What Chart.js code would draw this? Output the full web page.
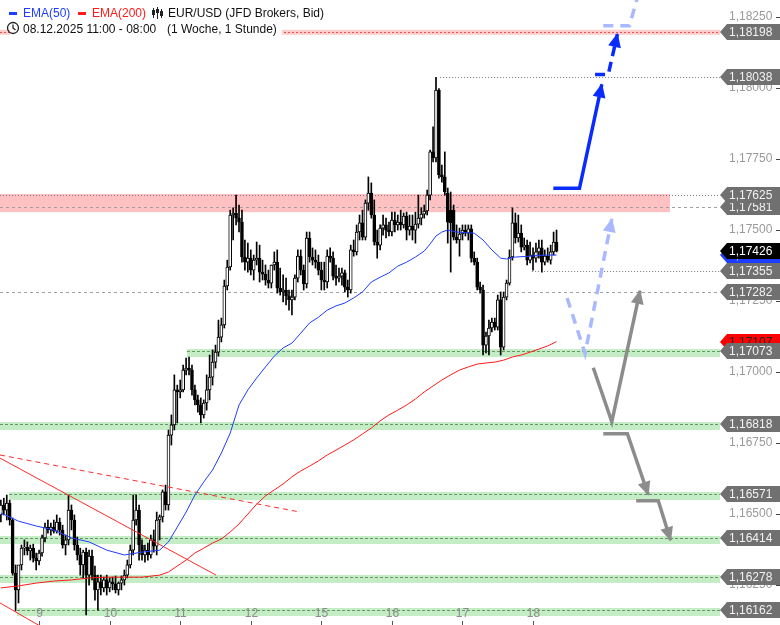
<!DOCTYPE html>
<html>
<head>
<meta charset="utf-8">
<script src="https://cdn.jsdelivr.net/npm/chart.js@4/dist/chart.umd.min.js"></script>
<style>
  html, body { margin: 0; padding: 0; background: #fff; }
</style>
</head>
<body>
<canvas id="canvas" width="780" height="625"></canvas>
<script>
const FONT = '"Liberation Sans", Arial, sans-serif';
Chart.defaults.font.family = FONT;

// x axis: one slot per hourly candle, labels on the first candle of each day
const dayLabels = ['9', '10', '11', '12', '15', '16', '17', '18'];
const dayStarts = [13, 37, 61, 85, 109, 133, 157, 181];

// candles [open, high, low, close]
const dec08 = [
  [1.16497,1.16549,1.16472,1.16532],[1.16532,1.16556,1.16497,1.16514],[1.16514,1.16567,1.16479,1.16539],
  [1.16539,1.16549,1.16461,1.16479],[1.16479,1.16486,1.16285,1.16292],[1.16292,1.16321,1.16159,1.16233],
  [1.16233,1.16303,1.16187,1.16321],[1.16321,1.16391,1.16303,1.16380],[1.16380,1.16409,1.16356,1.16384],
  [1.16384,1.16402,1.16356,1.16370],[1.16370,1.16391,1.16338,1.16380],[1.16380,1.16394,1.16331,1.16345],
  [1.16345,1.16363,1.16303,1.16335]
];
const dec09 = [
  [1.16335,1.16373,1.16321,1.16363],[1.16363,1.16426,1.16352,1.16416],[1.16416,1.16468,1.16402,1.16454],
  [1.16454,1.16479,1.16433,1.16444],[1.16444,1.16468,1.16426,1.16454],[1.16454,1.16479,1.16433,1.16440],
  [1.16440,1.16497,1.16433,1.16472],[1.16472,1.16486,1.16426,1.16444],[1.16444,1.16461,1.16380,1.16391],
  [1.16391,1.16426,1.16356,1.16409],[1.16409,1.16567,1.16391,1.16514],[1.16514,1.16532,1.16444,1.16479],
  [1.16479,1.16497,1.16373,1.16391],[1.16391,1.16419,1.16338,1.16356],[1.16356,1.16380,1.16285,1.16321],
  [1.16321,1.16373,1.16275,1.16366],[1.16366,1.16380,1.16145,1.16285],[1.16285,1.16373,1.16250,1.16352],
  [1.16352,1.16373,1.16268,1.16285],[1.16285,1.16317,1.16197,1.16233],[1.16233,1.16285,1.16162,1.16261],
  [1.16261,1.16285,1.16215,1.16240],[1.16240,1.16278,1.16226,1.16268],[1.16268,1.16285,1.16215,1.16240]
];
const dec10 = [
  [1.16240,1.16275,1.16226,1.16261],[1.16261,1.16278,1.16233,1.16254],[1.16254,1.16282,1.16222,1.16233],
  [1.16233,1.16261,1.16215,1.16257],[1.16257,1.16282,1.16233,1.16268],[1.16268,1.16303,1.16250,1.16285],
  [1.16285,1.16338,1.16275,1.16321],[1.16321,1.16391,1.16310,1.16373],[1.16373,1.16567,1.16356,1.16479],
  [1.16479,1.16567,1.16461,1.16514],[1.16514,1.16532,1.16338,1.16391],[1.16391,1.16409,1.16338,1.16356],
  [1.16356,1.16391,1.16331,1.16373],[1.16373,1.16398,1.16338,1.16356],[1.16356,1.16426,1.16345,1.16409],
  [1.16409,1.16444,1.16366,1.16387],[1.16387,1.16507,1.16356,1.16479],[1.16479,1.16497,1.16409,1.16490],
  [1.16490,1.16585,1.16472,1.16578],[1.16578,1.16602,1.16514,1.16532],[1.16532,1.16796,1.16514,1.16778],
  [1.16778,1.16849,1.16743,1.16814],[1.16814,1.16990,1.16796,1.16937],[1.16937,1.16954,1.16821,1.16930]
];
const dec11 = [
  [1.16930,1.16972,1.16909,1.16937],[1.16937,1.17025,1.16930,1.17007],[1.17007,1.17049,1.16990,1.17014],
  [1.17014,1.17053,1.16990,1.17007],[1.17007,1.17025,1.16919,1.16937],[1.16937,1.16954,1.16884,1.16902],
  [1.16902,1.16919,1.16859,1.16884],[1.16884,1.16909,1.16821,1.16849],[1.16849,1.16902,1.16838,1.16891],
  [1.16891,1.16990,1.16866,1.16937],[1.16937,1.17060,1.16902,1.16982],[1.16982,1.17078,1.16954,1.17035],
  [1.17035,1.17095,1.17014,1.17070],[1.17070,1.17183,1.17056,1.17123],[1.17123,1.17190,1.17106,1.17166],
  [1.17166,1.17324,1.17155,1.17303],[1.17303,1.17394,1.17289,1.17370],[1.17370,1.17570,1.17359,1.17553],
  [1.17553,1.17578,1.17465,1.17560],[1.17560,1.17623,1.17518,1.17542],[1.17542,1.17588,1.17493,1.17528],
  [1.17528,1.17570,1.17387,1.17405],[1.17405,1.17465,1.17359,1.17387],[1.17387,1.17454,1.17352,1.17401]
];
const dec12 = [
  [1.17401,1.17430,1.17342,1.17359],[1.17359,1.17412,1.17324,1.17394],[1.17394,1.17458,1.17377,1.17401],
  [1.17401,1.17447,1.17317,1.17352],[1.17352,1.17394,1.17324,1.17345],[1.17345,1.17377,1.17306,1.17324],
  [1.17324,1.17359,1.17296,1.17313],[1.17313,1.17377,1.17296,1.17377],[1.17377,1.17423,1.17359,1.17387],
  [1.17387,1.17430,1.17278,1.17296],[1.17296,1.17366,1.17271,1.17282],[1.17282,1.17342,1.17247,1.17289],
  [1.17289,1.17331,1.17236,1.17268],[1.17268,1.17289,1.17218,1.17254],[1.17254,1.17289,1.17201,1.17264],
  [1.17264,1.17342,1.17254,1.17331],[1.17331,1.17430,1.17317,1.17408],[1.17408,1.17430,1.17342,1.17359],
  [1.17359,1.17377,1.17289,1.17310],[1.17310,1.17493,1.17296,1.17472],[1.17472,1.17493,1.17387,1.17405],
  [1.17405,1.17437,1.17377,1.17394],[1.17394,1.17430,1.17366,1.17387],[1.17387,1.17412,1.17342,1.17359]
];
const dec15 = [
  [1.17359,1.17387,1.17289,1.17324],[1.17324,1.17387,1.17289,1.17317],[1.17317,1.17430,1.17296,1.17408],
  [1.17408,1.17437,1.17387,1.17401],[1.17401,1.17423,1.17324,1.17338],[1.17338,1.17377,1.17306,1.17331],
  [1.17331,1.17366,1.17317,1.17338],[1.17338,1.17366,1.17306,1.17349],[1.17349,1.17359,1.17282,1.17299],
  [1.17299,1.17324,1.17264,1.17289],[1.17289,1.17447,1.17278,1.17430],[1.17430,1.17465,1.17408,1.17423],
  [1.17423,1.17518,1.17412,1.17493],[1.17493,1.17553,1.17465,1.17525],[1.17525,1.17570,1.17465,1.17475],
  [1.17475,1.17606,1.17465,1.17595],[1.17595,1.17687,1.17570,1.17630],[1.17630,1.17666,1.17542,1.17553],
  [1.17553,1.17606,1.17447,1.17458],[1.17458,1.17500,1.17401,1.17447],[1.17447,1.17518,1.17430,1.17507],
  [1.17507,1.17553,1.17482,1.17518],[1.17518,1.17542,1.17472,1.17500],[1.17500,1.17528,1.17479,1.17493]
];
const dec16 = [
  [1.17493,1.17563,1.17479,1.17535],[1.17535,1.17563,1.17493,1.17518],[1.17518,1.17553,1.17500,1.17528],
  [1.17528,1.17570,1.17500,1.17518],[1.17518,1.17560,1.17507,1.17549],[1.17549,1.17563,1.17465,1.17500],
  [1.17500,1.17553,1.17482,1.17514],[1.17514,1.17553,1.17465,1.17500],[1.17500,1.17563,1.17454,1.17521],
  [1.17521,1.17623,1.17507,1.17542],[1.17542,1.17578,1.17518,1.17556],[1.17556,1.17588,1.17542,1.17567],
  [1.17567,1.17641,1.17553,1.17623],[1.17623,1.17782,1.17606,1.17775],[1.17775,1.17863,1.17740,1.17754],
  [1.17754,1.18038,1.17740,1.17993],[1.17993,1.17998,1.17683,1.17694],[1.17694,1.17729,1.17669,1.17687],
  [1.17687,1.17775,1.17623,1.17634],[1.17630,1.17648,1.17454,1.17528],[1.17570,1.17634,1.17352,1.17525],
  [1.17570,1.17588,1.17465,1.17475],[1.17475,1.17518,1.17454,1.17465],[1.17465,1.17507,1.17408,1.17486]
];
const dec17 = [
  [1.17486,1.17518,1.17465,1.17500],[1.17500,1.17518,1.17479,1.17489],[1.17489,1.17518,1.17465,1.17504],
  [1.17504,1.17518,1.17387,1.17401],[1.17401,1.17423,1.17377,1.17387],[1.17387,1.17401,1.17289,1.17299],
  [1.17299,1.17317,1.17278,1.17289],[1.17289,1.17306,1.17060,1.17095],[1.17095,1.17141,1.17067,1.17127],
  [1.17127,1.17183,1.17060,1.17155],[1.17155,1.17190,1.17141,1.17176],[1.17176,1.17190,1.17148,1.17158],
  [1.17158,1.17271,1.17148,1.17254],[1.17254,1.17282,1.17060,1.17088],[1.17088,1.17282,1.17078,1.17264],
  [1.17264,1.17324,1.17254,1.17313],[1.17313,1.17430,1.17306,1.17405],[1.17405,1.17578,1.17394,1.17525],
  [1.17525,1.17560,1.17454,1.17472],[1.17472,1.17553,1.17458,1.17489],[1.17489,1.17518,1.17423,1.17440],
  [1.17440,1.17472,1.17430,1.17447],[1.17447,1.17465,1.17377,1.17394],[1.17394,1.17458,1.17384,1.17412]
];
const dec18 = [
  [1.17412,1.17437,1.17359,1.17401],[1.17401,1.17454,1.17387,1.17423],[1.17423,1.17465,1.17401,1.17437],
  [1.17437,1.17465,1.17352,1.17387],[1.17387,1.17430,1.17377,1.17408],[1.17408,1.17437,1.17387,1.17394],
  [1.17394,1.17447,1.17380,1.17423],[1.17423,1.17493,1.17412,1.17458],[1.17458,1.17500,1.17423,1.17426]
];

// moving averages, [candle index, price]
const ema50 = [
  [0,1.16504],[6,1.16475],[12,1.16458],[18,1.16444],[24,1.16416],[30,1.16402],[36,1.16373],[42,1.16356],
  [48,1.16366],[54,1.16373],[57,1.16402],[60,1.16454],[63,1.16507],[66,1.16567],[69,1.16613],[72,1.16655],
  [75,1.16715],[78,1.16785],[81,1.16884],[84,1.16937],[87,1.16979],[90,1.17018],[93,1.17056],[96,1.17085],
  [99,1.17102],[102,1.17137],[105,1.17173],[108,1.17193],[111,1.17218],[114,1.17233],[117,1.17243],
  [120,1.17261],[123,1.17282],[126,1.17317],[129,1.17334],[132,1.17349],[135,1.17373],[138,1.17387],
  [141,1.17405],[144,1.17426],[146,1.17451],[148,1.17479],[150,1.17493],[152,1.17500],[155,1.17493],
  [158,1.17491],[161,1.17489],[164,1.17465],[167,1.17430],[170,1.17401],[172,1.17398],[175,1.17405],
  [180,1.17408],[185,1.17412],[189,1.17412]
];
const ema200 = [
  [0,1.16240],[6,1.16247],[12,1.16257],[18,1.16264],[24,1.16268],[30,1.16275],[36,1.16278],[42,1.16278],
  [48,1.16278],[54,1.16285],[57,1.16296],[60,1.16317],[63,1.16338],[66,1.16363],[69,1.16380],[72,1.16398],
  [75,1.16412],[78,1.16437],[81,1.16465],[84,1.16500],[87,1.16535],[90,1.16564],[93,1.16585],[96,1.16606],
  [99,1.16631],[102,1.16652],[105,1.16669],[108,1.16687],[111,1.16708],[114,1.16725],[117,1.16743],
  [120,1.16761],[123,1.16782],[126,1.16803],[129,1.16828],[132,1.16849],[135,1.16866],[138,1.16884],
  [141,1.16905],[144,1.16930],[147,1.16951],[150,1.16972],[153,1.16990],[156,1.17007],[159,1.17018],
  [162,1.17028],[165,1.17032],[168,1.17035],[171,1.17042],[174,1.17053],[177,1.17060],[180,1.17070],
  [183,1.17081],[186,1.17092],[189,1.17107]
];

// drawn trend lines
const trendSolid = [[-0.3,1.16697],[73.2,1.16285]];
const trendDashed = [[-0.3,1.16708],[101.8,1.16507]];
const trendLow = [[-0.3,1.16187],[13.3,1.16106]];

// scenario arrows
const arrowUp1 = [[187.9,1.17647],[196.8,1.17647],[204.4,1.18013]];
const arrowUp2 = [[202.1,1.18048],[206.6,1.18048],[209.7,1.18190]];
const arrowUp3 = [[204.9,1.18219],[213.8,1.18219],[217.2,1.18345]];
const arrowAlt = [[192.6,1.17261],[198.7,1.17065],[207.8,1.17539]];
const arrowGreyV = [[201.5,1.17015],[207.8,1.16825],[217.4,1.17286]];
const arrowDown1 = [[204.9,1.16783],[213.1,1.16783],[220.2,1.16568]];
const arrowDown2 = [[216.1,1.16547],[223.6,1.16547],[227.8,1.16408]];

// horizontal levels
const supportLevels = [1.17073, 1.16818, 1.16571, 1.16414, 1.16278, 1.16162];
const supportFrom = [63.3, -0.3, 2.8, -0.3, -0.3, 5.5];
const resistZone = [1.17627, 1.17563];
const resistZoneTo = 227.6;
const topLevel = 1.18198;
const dottedLevels = [1.18038, 1.17625, 1.17355];
const dottedFrom = [149.4, -0.3, 180.7];
const dashedLevels = [1.17581, 1.17282];
const lastPrice = 1.17426;

const candles = [].concat(dec08, dec09, dec10, dec11, dec12, dec15, dec16, dec17, dec18);
const toPts = arr => arr.map(p => ({ x: p[0], y: p[1] }));
const fmt = v => v.toFixed(5).replace('.', ',');

function lineSet(data, color, width, dash, extra) {
  return Object.assign({
    type: 'line', data: toPts(data), borderColor: color, borderWidth: width,
    borderDash: dash || [], pointRadius: 0, tension: 0, fill: false, order: 0
  }, extra || {});
}

function tag(ctx, x0, y, text, fill, color) {
  ctx.beginPath();
  ctx.moveTo(x0, y);
  ctx.lineTo(x0 + 7, y - 8);
  ctx.lineTo(780, y - 8);
  ctx.lineTo(780, y + 8);
  ctx.lineTo(x0 + 7, y + 8);
  ctx.closePath();
  ctx.fillStyle = fill;
  ctx.fill();
  ctx.fillStyle = color;
  ctx.font = '12px ' + FONT;
  ctx.textAlign = 'left';
  ctx.textBaseline = 'middle';
  ctx.fillText(text, x0 + 9, y + 0.5);
}

const levelsPlugin = {
  id: 'levels',
  beforeDatasetsDraw(chart) {
    const { ctx, chartArea: a, scales: { x, y } } = chart;
    const px = v => x.getPixelForValue(v);
    const py = v => y.getPixelForValue(v);
    ctx.save();
    ctx.beginPath();
    ctx.rect(a.left, a.top, a.right - a.left, a.bottom - a.top);
    ctx.clip();

    // resistance zone
    ctx.fillStyle = 'rgba(255,160,160,0.65)';
    ctx.fillRect(a.left, py(resistZone[0]), px(resistZoneTo) - a.left, py(resistZone[1]) - py(resistZone[0]));

    // thin red band at the top
    ctx.fillStyle = 'rgba(255,170,170,0.6)';
    ctx.fillRect(a.left, py(topLevel) - 2, a.right - a.left, 5);
    ctx.strokeStyle = '#e05555';
    ctx.lineWidth = 1;
    ctx.setLineDash([2, 2]);
    ctx.beginPath();
    ctx.moveTo(a.left, Math.round(py(topLevel)) + 0.5);
    ctx.lineTo(a.right, Math.round(py(topLevel)) + 0.5);
    ctx.stroke();

    // support bands
    supportLevels.forEach((p, k) => {
      const x0 = px(supportFrom[k]);
      const yy = Math.round(py(p));
      ctx.fillStyle = 'rgba(140,220,140,0.5)';
      ctx.fillRect(x0, yy - 2, a.right - x0, 8);
      ctx.strokeStyle = 'rgba(90,140,90,0.9)';
      ctx.setLineDash([3, 2]);
      ctx.beginPath();
      ctx.moveTo(x0, yy + 0.5);
      ctx.lineTo(a.right, yy + 0.5);
      ctx.stroke();
    });

    ctx.strokeStyle = '#7a7a7a';
    ctx.setLineDash([1, 2]);
    dottedLevels.forEach((p, k) => {
      const yy = Math.round(py(p)) + 0.5;
      ctx.beginPath();
      ctx.moveTo(px(dottedFrom[k]), yy);
      ctx.lineTo(a.right, yy);
      ctx.stroke();
    });
    ctx.strokeStyle = '#a0a0a0';
    ctx.setLineDash([3, 3]);
    dashedLevels.forEach(p => {
      const yy = Math.round(py(p)) + 0.5;
      ctx.beginPath();
      ctx.moveTo(a.left, yy);
      ctx.lineTo(a.right, yy);
      ctx.stroke();
    });
    ctx.restore();
  },
  afterDatasetsDraw(chart) {
    const { ctx } = chart;
    chart.data.datasets.forEach((ds, k) => {
      if (!ds.arrowHead) return;
      const pts = chart.getDatasetMeta(k).data;
      const p1 = pts[pts.length - 2], p2 = pts[pts.length - 1];
      const ang = Math.atan2(p2.y - p1.y, p2.x - p1.x);
      ctx.save();
      ctx.translate(p2.x, p2.y);
      ctx.rotate(ang);
      ctx.beginPath();
      ctx.moveTo(1, 0);
      ctx.lineTo(-13, -6.5);
      ctx.lineTo(-13, 6.5);
      ctx.closePath();
      ctx.fillStyle = ds.borderColor;
      ctx.fill();
      ctx.restore();
    });
  },
  afterDraw(chart) {
    const { ctx, chartArea: a, scales: { x, y } } = chart;
    const py = v => Math.round(y.getPixelForValue(v));
    ctx.save();

    // day labels and tick marks of the time axis
    ctx.font = '12px ' + FONT;
    ctx.textAlign = 'center';
    ctx.textBaseline = 'middle';
    ctx.strokeStyle = '#555';
    ctx.lineWidth = 1;
    dayStarts.forEach((d, k) => {
      const xx = Math.round(x.getPixelForValue(d)) + 0.5;
      ctx.beginPath();
      ctx.moveTo(xx, a.bottom + 1);
      ctx.lineTo(xx, a.bottom + 5);
      ctx.stroke();
      ctx.fillStyle = '#8c8c8c';
      ctx.fillText(dayLabels[k], xx, a.bottom - 6);
    });

    // small tick marks right of the price labels
    ctx.strokeStyle = '#444';
    y.ticks.forEach(t => {
      const yy = py(t.value) + 0.5;
      ctx.beginPath();
      ctx.moveTo(776, yy);
      ctx.lineTo(780, yy);
      ctx.stroke();
    });

    // price tags
    const grey = '#707070';
    const x0 = a.right;
    tag(ctx, x0, py(topLevel), fmt(topLevel), grey, '#f2f2f2');
    tag(ctx, x0, py(dottedLevels[0]), fmt(dottedLevels[0]), grey, '#f2f2f2');
    tag(ctx, x0, py(dashedLevels[0]), fmt(dashedLevels[0]), grey, '#f2f2f2');
    tag(ctx, x0, py(dottedLevels[1]), fmt(dottedLevels[1]), grey, '#f2f2f2');
    const e50 = ema50[ema50.length - 1][1];
    tag(ctx, x0, py(e50), fmt(e50), '#1f3dff', '#ffffff');
    tag(ctx, x0, py(lastPrice), fmt(lastPrice), '#000000', '#ffffff');
    tag(ctx, x0, py(dottedLevels[2]), fmt(dottedLevels[2]), grey, '#f2f2f2');
    tag(ctx, x0, py(dashedLevels[1]), fmt(dashedLevels[1]), grey, '#f2f2f2');
    const e200 = ema200[ema200.length - 1][1];
    tag(ctx, x0, py(e200), fmt(e200), '#ff0000', '#222222');
    supportLevels.forEach(p => tag(ctx, x0, py(p), fmt(p), grey, '#f2f2f2'));

    // header
    ctx.fillStyle = '#ffffff';
    ctx.fillRect(10, 0, 272, 37);
    ctx.font = '12px ' + FONT;
    ctx.textAlign = 'left';
    ctx.textBaseline = 'alphabetic';
    ctx.fillStyle = '#1f3dff';
    ctx.fillRect(9, 12, 8, 3);
    ctx.fillText('EMA(50)', 23, 17);
    ctx.fillStyle = '#ff1a1a';
    ctx.fillRect(78, 12, 8, 3);
    ctx.fillText('EMA(200)', 92, 17);
    // small candles icon
    ctx.fillStyle = '#222';
    ctx.strokeStyle = '#222';
    [[153.5, 8, 18, 10, 15], [157.5, 7, 19, 9, 13], [161.5, 9, 18, 11, 16]].forEach(c => {
      ctx.beginPath();
      ctx.moveTo(c[0], c[1]);
      ctx.lineTo(c[0], c[2]);
      ctx.stroke();
      ctx.fillRect(c[0] - 1.5, c[3], 3, c[4] - c[3]);
    });
    ctx.fillStyle = '#111';
    ctx.fillText('EUR/USD (JFD Brokers, Bid)', 168, 17);
    // clock icon
    ctx.lineWidth = 1.3;
    ctx.beginPath();
    ctx.arc(13, 28, 5.5, 0, Math.PI * 2);
    ctx.stroke();
    ctx.beginPath();
    ctx.moveTo(13, 24.5);
    ctx.lineTo(13, 28);
    ctx.lineTo(15.5, 30);
    ctx.stroke();
    ctx.fillText('08.12.2025 11:00 - 08:00', 23, 33);
    ctx.fillText('(1 Woche, 1 Stunde)', 167, 33);
    ctx.restore();
  }
};

const chart = new Chart(document.getElementById('canvas'), {
  type: 'bar',
  data: {
    datasets: [
      lineSet(arrowUp1, '#0a2bff', 3.5, null, { arrowHead: true }),
      lineSet(arrowUp2, '#0a2bff', 3.5, [10, 6], { arrowHead: true }),
      lineSet(arrowUp3, '#aab9ff', 3.5, [10, 7]),
      lineSet(arrowAlt, '#aab9ff', 3.5, [10, 7], { arrowHead: true }),
      lineSet(arrowGreyV, '#8c8c8c', 3.5, null, { arrowHead: true }),
      lineSet(arrowDown1, '#8c8c8c', 3.5, null, { arrowHead: true }),
      lineSet(arrowDown2, '#8c8c8c', 3.5, null, { arrowHead: true }),
      lineSet(ema50, '#1f3dff', 1),
      lineSet(ema200, '#ff1a1a', 1),
      lineSet(trendSolid, '#ff2a2a', 1),
      lineSet(trendDashed, '#ff2a2a', 1, [5, 4]),
      lineSet(trendLow, '#ff2a2a', 1, null, { clip: false }),
      {
        type: 'bar',
        data: candles.map((c, i) => ({ x: i, y: [Math.min(c[0], c[3]), Math.max(c[0], c[3])] })),
        backgroundColor: candles.map(c => (c[3] >= c[0] ? '#ffffff' : '#000000')),
        borderColor: '#000000',
        borderWidth: 1,
        borderSkipped: false,
        barThickness: 3,
        minBarLength: 1,
        grouped: false,
        order: 1
      },
      {
        type: 'bar',
        data: candles.map((c, i) => ({ x: i, y: [c[2], c[1]] })),
        backgroundColor: '#000000',
        borderWidth: 0,
        barThickness: 1,
        grouped: false,
        order: 2
      }
    ]
  },
  options: {
    responsive: false,
    animation: false,
    events: [],
    layout: { padding: { top: 0, left: 0, right: 0, bottom: 5 } },
    plugins: { legend: { display: false }, tooltip: { enabled: false } },
    scales: {
      x: {
        type: 'linear',
        display: false,
        min: -0.3,
        max: 244.6,
        offset: false
      },
      y: {
        position: 'right',
        min: 1.16127,
        max: 1.18310,
        afterFit: s => { s.width = 60; s.paddingTop = 0; s.paddingBottom = 0; },
        grid: { display: false, drawTicks: false },
        border: { display: false },
        ticks: {
          stepSize: 0.0025,
          includeBounds: false,
          padding: 9,
          color: '#9a9a9a',
          font: { size: 12 },
          callback: v => fmt(v)
        }
      }
    }
  },
  plugins: [levelsPlugin]
});
</script>
</body>
</html>
